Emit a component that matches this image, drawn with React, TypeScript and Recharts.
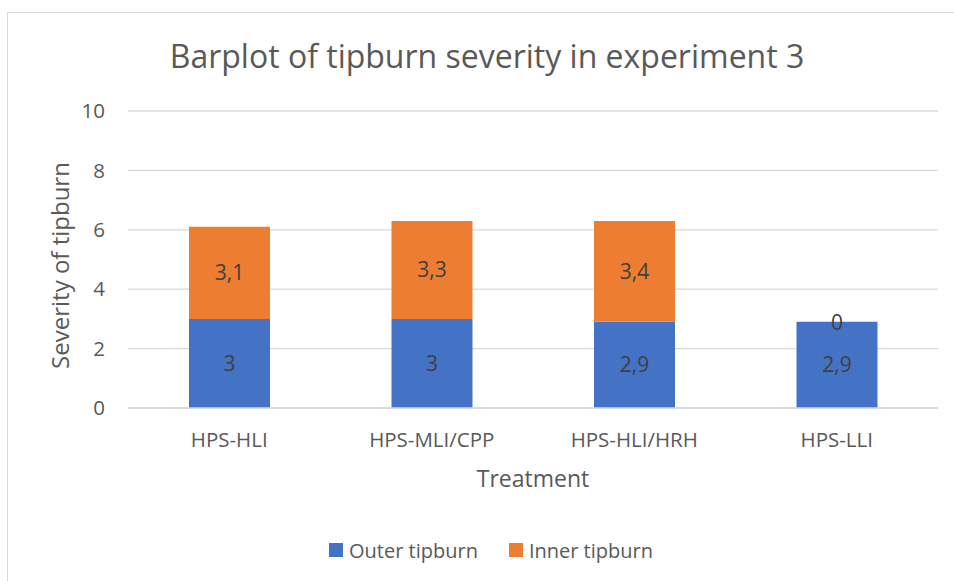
import React from 'react';
import { BarChart, Bar, XAxis, YAxis, CartesianGrid, Legend, LabelList, Label } from 'recharts';

const categories = ['HPS-HLI', 'HPS-MLI/CPP', 'HPS-HLI/HRH', 'HPS-LLI'];
const outerValues = [3, 3, 2.9, 2.9];
const innerValues = [3.1, 3.3, 3.4, 0];
const yTicks = [0, 2, 4, 6, 8, 10];
const seriesNames = { outer: 'Outer tipburn', inner: 'Inner tipburn' };
const legendOrder = [seriesNames.outer, seriesNames.inner];
const titleText = 'Barplot of tipburn severity in experiment 3';

const data = categories.map((c, i) => ({ treatment: c, outer: outerValues[i], inner: innerValues[i] }));

const FONT = '"Open Sans", sans-serif';
const fmt = (v: any) => String(v).replace('.', ',');

const LegendContent = (props: any) => {
  const payload = [...(props.payload || [])].sort(
    (a: any, b: any) => legendOrder.indexOf(a.value) - legendOrder.indexOf(b.value)
  );
  return (
    <div style={{ display: 'flex', justifyContent: 'center', alignItems: 'center', height: 30, paddingLeft: 28, fontFamily: FONT, fontSize: 20, color: '#595959' }}>
      {payload.map((p: any, i: number) => (
        <div key={i} style={{ display: 'flex', alignItems: 'center', marginLeft: i > 0 ? 31 : 0 }}>
          <span style={{ display: 'inline-block', width: 14, height: 14, background: p.color, marginRight: 6 }} />
          <span>{p.value}</span>
        </div>
      ))}
    </div>
  );
};

// Shows the inner value on top of the outer bar when the inner segment is empty (zero)
const ZeroInnerLabel = (props: any) => {
  const { x, y, width, value } = props;
  if (value !== 0) return null;
  return (
    <text x={x + width / 2} y={y} textAnchor="middle" dominantBaseline="central" fontFamily={FONT} fontSize={21} fill="#404040">
      {fmt(value)}
    </text>
  );
};

export default function App() {
  return (
    <div style={{ position: 'absolute', left: 0, top: 0, width: 954, height: 581, background: '#fff', fontFamily: FONT }}>
      <BarChart width={954} height={581} data={data} margin={{ top: 111, right: 16, left: 68, bottom: 16 }}>
        <rect x={7.5} y={12.5} width={980} height={600} fill="none" stroke="#d9d9d9" strokeWidth={1} />
        <text x={487} y={68} textAnchor="middle" fontFamily={FONT} fontSize={32} fill="#595959">{titleText}</text>
        <CartesianGrid vertical={false} stroke="#d9d9d9" strokeWidth={1.3} />
        <XAxis
          dataKey="treatment"
          height={127}
          axisLine={{ stroke: '#d9d9d9', strokeWidth: 1.3 }}
          tickLine={false}
          tickSize={0}
          tickMargin={24}
          tick={{ fontFamily: FONT, fontSize: 20.5, fill: '#595959' }}
        >
          <Label
            content={(p: any) => {
              const vb = p.viewBox;
              return (
                <text x={vb.x + vb.width / 2} y={vb.y + 79} textAnchor="middle" fontFamily={FONT} fontSize={23} fill="#595959">Treatment</text>
              );
            }}
          />
        </XAxis>
        <YAxis
          width={60}
          domain={[0, 10]}
          ticks={yTicks}
          axisLine={false}
          tickLine={false}
          tickSize={0}
          tickMargin={23}
          tick={{ fontFamily: FONT, fontSize: 20.5, fill: '#595959' }}
        >
          <Label
            content={(p: any) => {
              const vb = p.viewBox;
              const x = vb.x + 0.5;
              const y = vb.y + vb.height / 2 + 6;
              return (
                <text x={x} y={y} transform={`rotate(-90, ${x}, ${y})`} textAnchor="middle" fontFamily={FONT} fontSize={24} fill="#595959">Severity of tipburn</text>
              );
            }}
          />
        </YAxis>
        <Legend verticalAlign="bottom" content={<LegendContent />} wrapperStyle={{ left: 0, width: 954, height: 30 }} />
        <Bar dataKey="outer" name={seriesNames.outer} stackId="a" fill="#4472C4" barSize={81} isAnimationActive={false}>
          <LabelList dataKey="outer" position="center" formatter={fmt} style={{ fontFamily: FONT, fontSize: 21, fill: '#404040' }} />
          <LabelList dataKey="inner" content={<ZeroInnerLabel />} />
        </Bar>
        <Bar dataKey="inner" name={seriesNames.inner} stackId="a" fill="#ED7D31" barSize={81} isAnimationActive={false}>
          <LabelList dataKey="inner" position="center" formatter={fmt} style={{ fontFamily: FONT, fontSize: 21, fill: '#404040' }} />
        </Bar>
      </BarChart>
    </div>
  );
}
